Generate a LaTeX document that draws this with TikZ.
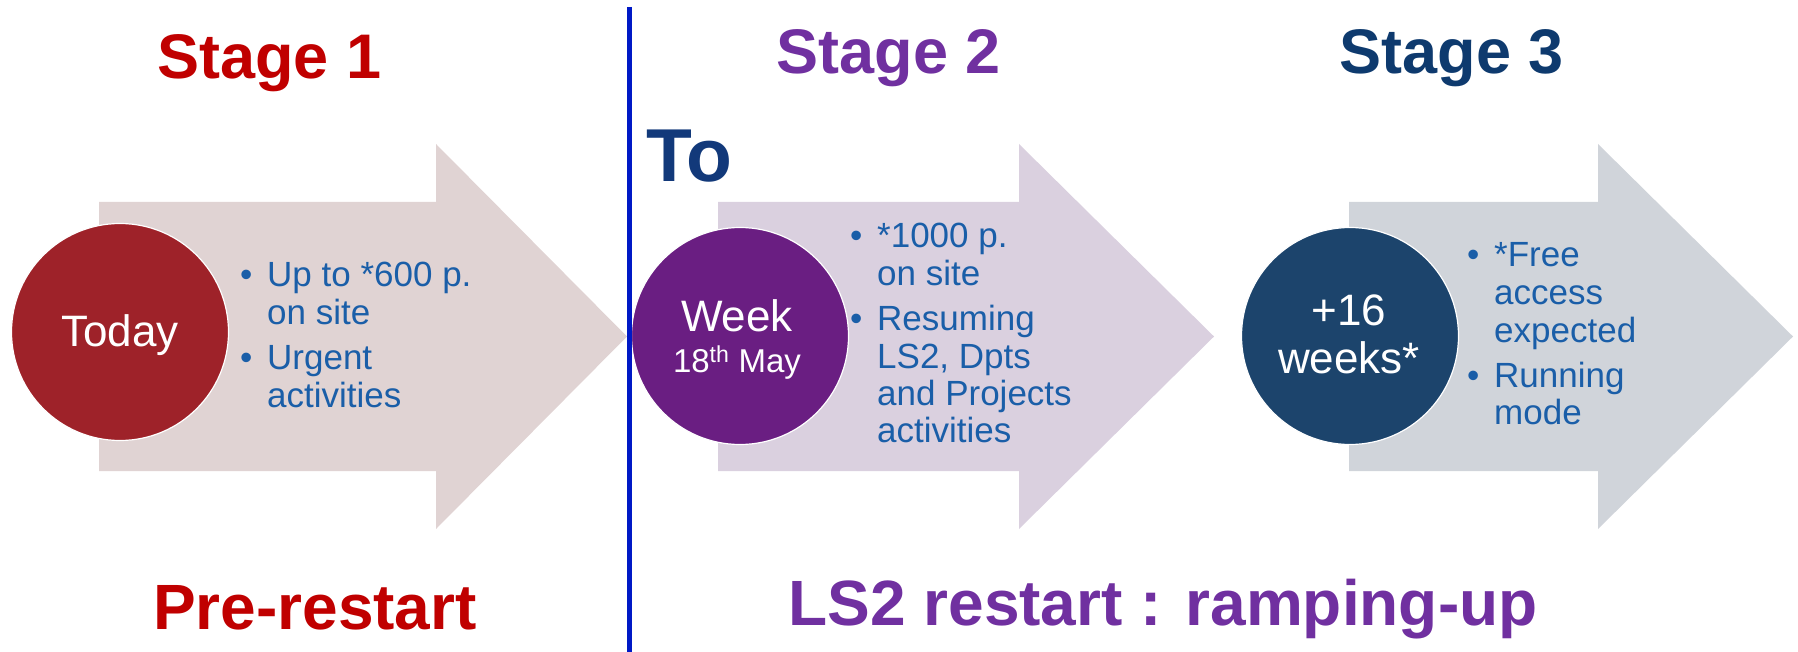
\documentclass[tikz,border=0pt]{standalone}
\usepackage{fontspec}
\setmainfont{Liberation Sans}
\usepackage{xcolor}
\definecolor{stageA}{HTML}{C00000}
\definecolor{stageB}{HTML}{7030A0}
\definecolor{stageC}{HTML}{0E3A6E}
\definecolor{toblue}{HTML}{12397A}
\definecolor{arrowA}{HTML}{E0D3D3}
\definecolor{arrowB}{HTML}{DAD0DF}
\definecolor{arrowC}{HTML}{D0D4DA}
\definecolor{ballA}{HTML}{9E2229}
\definecolor{ballB}{HTML}{6A1E82}
\definecolor{ballC}{HTML}{1C446C}
\definecolor{ptblue}{HTML}{1A5EA8}
\definecolor{divblue}{HTML}{0019C6}
\newcommand{\bul}{\makebox[27pt][l]{\textbullet}}

\begin{document}
\begin{tikzpicture}[x=1pt, y=-1pt,
        stage/.style={font=\bfseries\fontsize{63}{63}\selectfont, anchor=base, inner sep=0},
        ball/.style={circle, minimum size=217pt, inner sep=0, draw=white, line width=1.2pt},
        balltext/.style={text=white, anchor=base, inner sep=0, font=\fontsize{44}{48}\selectfont},
        pts/.style={text=ptblue, anchor=base west, inner sep=0, font=\fontsize{35}{37.5}\selectfont}]
        \useasboundingbox (0,0) rectangle (1798,652);
        \foreach \xa/\xb/\xc/\col in {99/436/627/arrowA, 718/1019/1214/arrowB, 1349/1598/1793/arrowC} {
            \fill[\col] (\xa,202) -- (\xb,202) -- (\xb,144) -- (\xc,336.5) -- (\xb,529) -- (\xb,471) -- (\xa,471) -- cycle;
        }
        \node[ball, fill=ballA] (c1) at (120,332) {};
        \node[ball, fill=ballB] (c2) at (740,336) {};
        \node[ball, fill=ballC] (c3) at (1350,336) {};
        \node[balltext] (today) at (120,346.5) {Today};
        \node[balltext] (week) at (737,331) {\fontsize{44}{41}\selectfont\begin{tabular}[t]{@{}c@{}}Week\\ {\fontsize{33}{33}\selectfont 18\textsuperscript{th} May}\end{tabular}};
        \node[balltext] (weeks) at (1349,325) {\begin{tabular}[t]{@{}c@{}}+16\\ weeks*\end{tabular}};
        \node[pts] (p1) at (240,287) {\begin{tabular}[t]{@{}l@{}l@{}}\bul & Up to *600 p.\\ & on site\\[7.5pt] \bul & Urgent\\ & activities\end{tabular}};
        \node[pts] (p2) at (850,248) {\begin{tabular}[t]{@{}l@{}l@{}}\bul & *1000 p.\\ & on site\\[7.5pt] \bul & Resuming\\ & LS2, Dpts\\ & and Projects\\ & activities\end{tabular}};
        \node[pts] (p3) at (1467,267) {\begin{tabular}[t]{@{}l@{}l@{}}\bul & *Free\\ & access\\ & expected\\[7.5pt] \bul & Running\\ & mode\end{tabular}};
        \node[stage, text=stageA] (s1) at (269.5,79) {Stage 1};
        \node[stage, text=stageB] (s2) at (889,74) {Stage 2};
        \node[stage, text=stageC] (s3) at (1452,74) {Stage 3};
        \node[font=\bfseries\fontsize{75}{75}\selectfont, text=toblue, anchor=base west, inner sep=0] (to) at (646,182) {To};
        \node[stage, text=stageA, font=\bfseries\fontsize{64}{64}\selectfont] (pre) at (315,629) {Pre-restart};
        \node[stage, text=stageB, font=\bfseries\fontsize{64}{64}\selectfont] (ramp) at (1163,625) {LS2 restart : ramping-up};
        \draw[line width=5pt, divblue] (629,7) -- (629,652);
    \end{tikzpicture}
\end{document}
